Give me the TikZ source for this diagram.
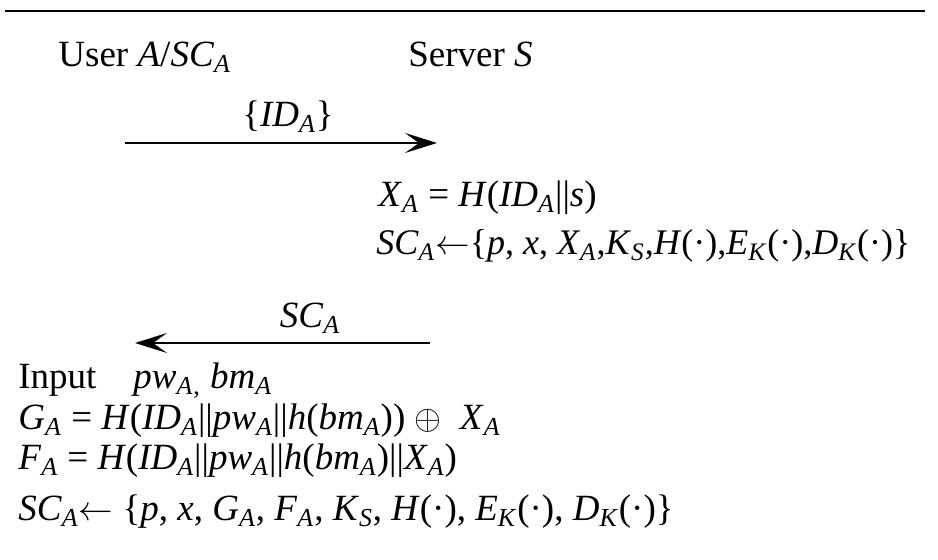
\documentclass[tikz,border=0pt]{standalone}
\usepackage{fontspec}
\setmainfont{Liberation Serif}
\usetikzlibrary{arrows.meta,positioning}
\newcommand{\iv}[2]{\textit{#1}\textsubscript{\textit{#2}}}
\newcommand{\cc}{||}
\newcommand{\storeto}{\(\leftarrow\)}

\begin{document}
\begin{tikzpicture}[
  x=0.5pt, y=-0.5pt,
  txt/.style={anchor=base west, inner sep=0pt, font=\fontsize{18.5}{22}\selectfont},
  msg/.style={-{Stealth[length=16pt, width=10pt, inset=7pt]}, line width=1.4pt}
]
  \useasboundingbox (0,0) rectangle (938,560);
  % top rule
  \coordinate (rl) at (5,11);
  \coordinate (rr) at (925,11);
  \draw[line width=1pt] (rl) -- (rr);
  % parties
  \node[txt] (user) at (58,67) {User \textit{A}/\iv{SC}{A}};
  \node[txt] (server) at (408,67) {Server \textit{S}};
  % user -> server
  \coordinate (m1s) at (125,143);
  \coordinate (m1e) at (437,143);
  \draw[msg] (m1s) -- (m1e);
  \node[txt, anchor=base] (idl) at (288,127) {\{\iv{ID}{A}\}};
  % server side
  \node[txt] (xa) at (378,207) {\iv{X}{A} = \textit{H}(\iv{ID}{A}\cc\textit{s})};
  \node[txt, font=\fontsize{18}{22}\selectfont] (scs) at (376,255) {\iv{SC}{A}\storeto\{\textit{p}, \textit{x}, \iv{X}{A},\iv{K}{S},\textit{H}(·),\iv{E}{K}(·),\iv{D}{K}(·)\}};
  % server -> user
  \coordinate (m2s) at (430,343);
  \coordinate (m2e) at (135,343);
  \draw[msg] (m2s) -- (m2e);
  \node[txt, anchor=base] (scl) at (310,328) {\iv{SC}{A}};
  % user side
  \node[txt] (inp) at (18,389) {Input};
  \node[txt] (pwbm) at (133,389) {\iv{pw}{A}\textsubscript{,} \iv{bm}{A}};
  \node[txt] (ga) at (18,430) {\iv{G}{A} = \textit{H}(\iv{ID}{A}\cc\iv{pw}{A}\cc\textit{h}(\iv{bm}{A}))~\(\oplus\)~~\iv{X}{A}};
  \node[txt] (fa) at (18,470) {\iv{F}{A} = \textit{H}(\iv{ID}{A}\cc\iv{pw}{A}\cc\textit{h}(\iv{bm}{A})\cc\iv{X}{A})};
  \node[txt] (scu) at (18,521) {\iv{SC}{A}\storeto\ \{\textit{p}, \textit{x}, \iv{G}{A}, \iv{F}{A}, \iv{K}{S}, \textit{H}(·), \iv{E}{K}(·), \iv{D}{K}(·)\}};
\end{tikzpicture}
\end{document}
